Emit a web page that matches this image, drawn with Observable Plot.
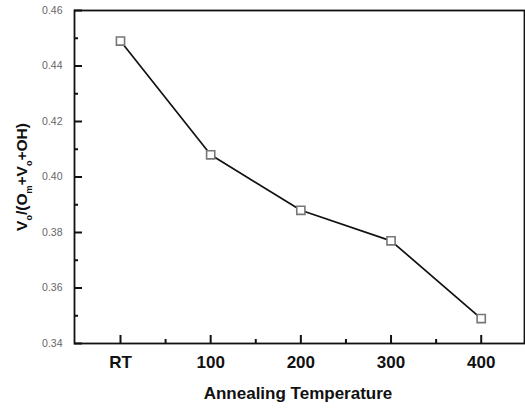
<!DOCTYPE html>
<html>
<head>
<meta charset="utf-8">
<script src="https://cdn.jsdelivr.net/npm/d3@7"></script>
<script src="https://cdn.jsdelivr.net/npm/@observablehq/plot@0.6"></script>
<style>
  html, body { margin: 0; padding: 0; background: #fff; }
</style>
</head>
<body>
<div id="chart"></div>
<script>
const categories = ["RT", "100", "200", "300", "400"];
const values = [0.449, 0.408, 0.388, 0.377, 0.349];
const yMajorTicks = [0.34, 0.36, 0.38, 0.40, 0.42, 0.44, 0.46];
const yMinorTicks = [0.35, 0.37, 0.39, 0.41, 0.43, 0.45];
const xMinorTicks = [0.5, 1.5, 2.5, 3.5];

const data = categories.map((c, i) => ({i, c, v: values[i]}));
const W = 525, H = 408;
const mL = 74, mT = 10, mR = 1, mB = 65;
const plotH = H - mT - mB, plotW = W - mL - mR;

const chart = Plot.plot({
  width: W,
  height: H,
  marginLeft: mL,
  marginTop: mT,
  marginRight: mR,
  marginBottom: mB,
  style: {fontFamily: "'Liberation Sans', Arial, sans-serif", background: "#fff"},
  x: {domain: [-0.51, 4.48], axis: null},
  y: {domain: [0.34, 0.46], axis: null},
  marks: [
    Plot.frame({stroke: "#111", strokeWidth: 1.8}),
    // y ticks (inward)
    Plot.tickY(yMajorTicks, {y: d => d, stroke: "#111", strokeWidth: 2, insetRight: plotW - 8}),
    Plot.tickY(yMinorTicks, {y: d => d, stroke: "#111", strokeWidth: 2, insetRight: plotW - 4}),
    // x ticks (inward)
    Plot.tickX(categories.map((c, i) => i), {x: d => d, stroke: "#111", strokeWidth: 2, insetTop: plotH - 8}),
    Plot.tickX(xMinorTicks, {x: d => d, stroke: "#111", strokeWidth: 2, insetTop: plotH - 4}),
    // y tick labels
    Plot.axisY({ticks: yMajorTicks, tickSize: 0, tickPadding: 12, tickFormat: d3.format(".2f"),
      fontSize: 10.5, fill: "#666", label: null}),
    // x tick labels
    Plot.axisX({ticks: categories.map((c, i) => i), tickSize: 0, tickPadding: 12,
      tickFormat: i => categories[i], fontSize: 17, fontWeight: "bold", fill: "#111", label: null}),
    Plot.line(data, {x: "i", y: "v", stroke: "#111", strokeWidth: 1.7}),
    Plot.dot(data, {x: "i", y: "v", symbol: "square", r: 4.6, fill: "#fff", stroke: "#777", strokeWidth: 1.6})
  ]
});

const svg = d3.select(chart);
// x axis title
svg.append("text")
  .attr("x", 298).attr("y", 399)
  .attr("text-anchor", "middle")
  .attr("font-family", "'Liberation Sans', Arial, sans-serif")
  .attr("font-size", 17).attr("font-weight", "bold").attr("fill", "#111")
  .text("Annealing Temperature");

// y axis title with subscripts
const yl = svg.append("text")
  .attr("transform", "translate(27,177) rotate(-90)")
  .attr("text-anchor", "middle")
  .attr("font-family", "'Liberation Sans', Arial, sans-serif")
  .attr("font-size", 15.5).attr("font-weight", "bold").attr("fill", "#111");
const parts = [["V", false], ["o", true], ["/(O", false], ["m", true], ["+V", false], ["o", true], ["+OH)", false]];
for (const [t, sub] of parts) {
  const ts = yl.append("tspan").text(t);
  if (sub) ts.attr("baseline-shift", "sub").attr("font-size", 9);
}

document.getElementById("chart").appendChild(chart);
</script>
</body>
</html>
